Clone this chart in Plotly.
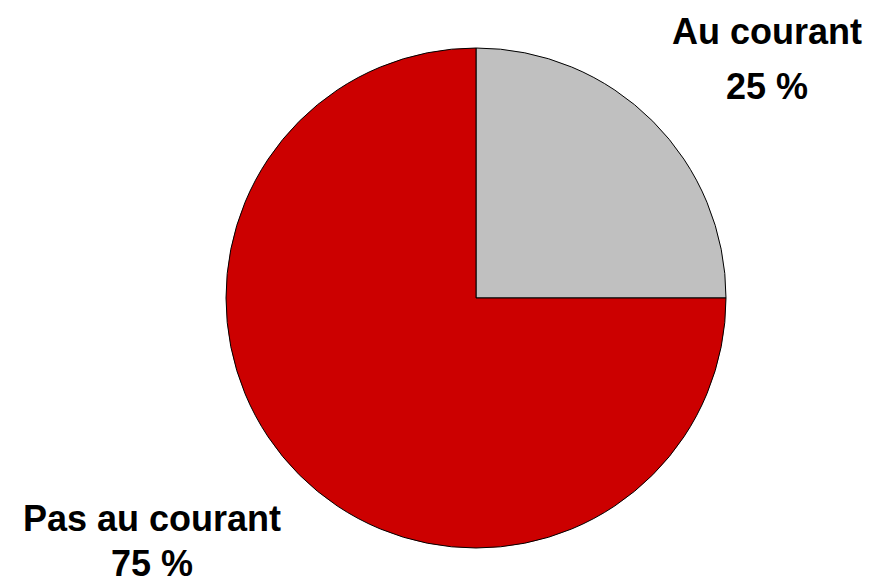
import plotly.graph_objects as go

# données
labels = ['Au courant', 'Pas au courant']
values = [25, 75]
colors = ['#C0C0C0', '#CC0000']

W, H = 877, 585

fig = go.Figure()

fig.add_trace(go.Pie(
    labels=labels,
    values=values,
    sort=False,
    direction='clockwise',
    rotation=0,
    textinfo='none',
    marker=dict(colors=colors, line=dict(color='black', width=1)),
    domain=dict(x=[226 / W, 726 / W], y=[37 / H, 537 / H]),
    showlegend=False,
    hoverinfo='label+percent'
))

# étiquettes extérieures (nom puis pourcentage, centre en pixels)
label_pos = [(767, 31, 86), (152, 518, None)]
font = dict(family='Liberation Sans', size=36, color='black', weight='bold')
for lab, val, (px, py1, py2) in zip(labels, values, label_pos):
    for txt, py in [(lab, py1), (f"{val} %", py2)]:
        if py is None:
            # collé au bord bas de la figure
            y, yanchor = 0, 'bottom'
        else:
            y, yanchor = 1 - py / H, 'middle'
        fig.add_annotation(
            text=txt,
            x=px / W, y=y,
            xref='paper', yref='paper',
            xanchor='center', yanchor=yanchor,
            showarrow=False,
            borderpad=0,
            font=font
        )

fig.update_layout(
    width=W, height=H,
    margin=dict(l=0, r=0, t=0, b=0),
    paper_bgcolor='white',
    plot_bgcolor='white'
)

# pas de marge du body pour que la figure occupe toute la fenêtre
fig.write_html("out.html", config={'displayModeBar': False},
               post_script="document.body.style.margin='0';")
